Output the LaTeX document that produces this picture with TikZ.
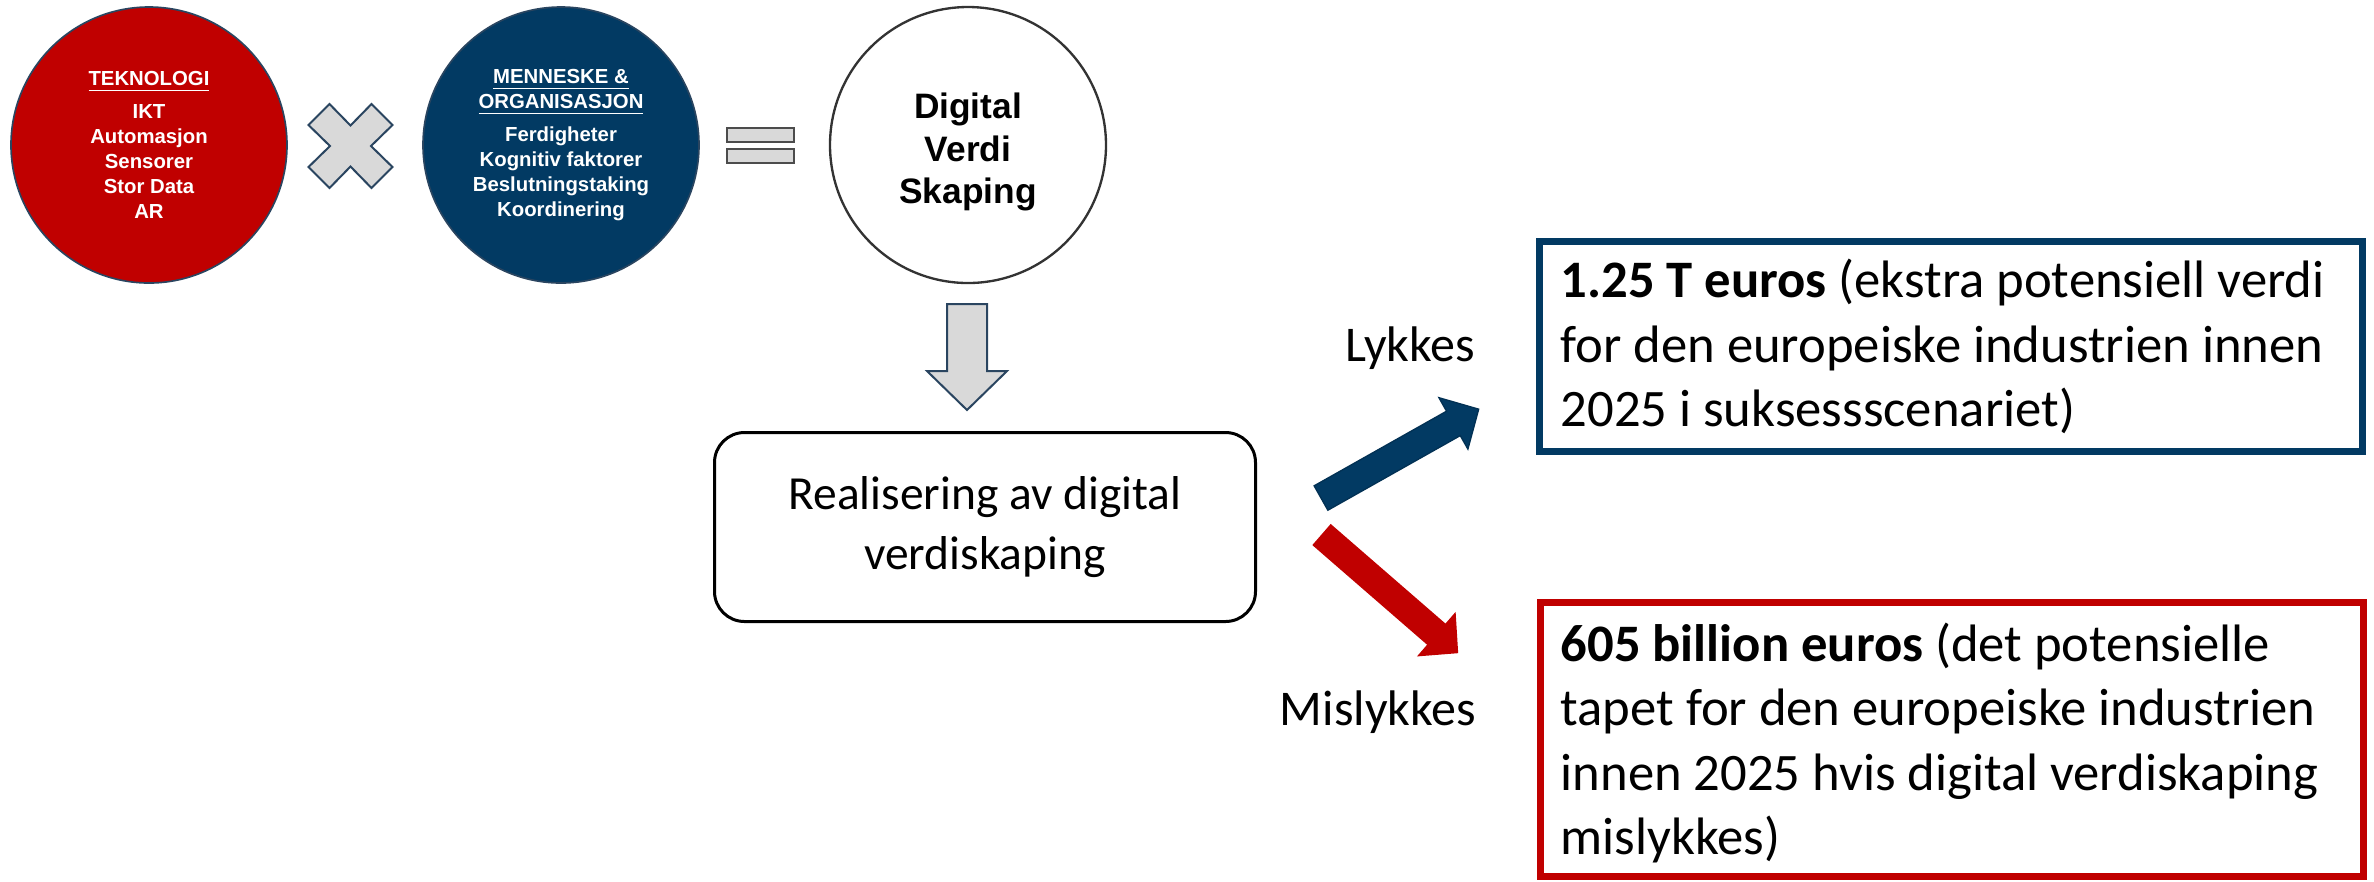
\documentclass[tikz,border=0pt]{standalone}
\usepackage{fontspec}
\setmainfont{Carlito}
\newfontfamily\circlefont{Liberation Sans}
\definecolor{deepred}{HTML}{C00000}
\definecolor{navy}{HTML}{023A63}
\definecolor{navyline}{HTML}{2A4560}
\definecolor{shapegray}{HTML}{D9D9D9}
\begin{document}
\begin{tikzpicture}[x=0.3pt, y=-0.3pt,
  disc/.style={circle, minimum size=82.8pt, inner sep=0pt, align=center},
  smalltxt/.style={font=\circlefont\bfseries\fontsize{6.1}{7.5}\selectfont, text=white},
  opshape/.style={fill=shapegray, draw=navyline, line width=0.6pt, line join=miter},
  eqbar/.style={rectangle, fill=shapegray, draw=black!70, line width=0.6pt,
    minimum width=20.1pt, minimum height=4.2pt, inner sep=0pt},
  outframe/.style={rectangle, line width=2.1pt, minimum width=246.9pt, inner sep=0pt},
  outtxt/.style={anchor=west, inner sep=0pt, align=left,
    font=\fontsize{15.8}{19.3}\selectfont},
  label/.style={font=\fontsize{15}{18}\selectfont}
]
\useasboundingbox (0,0) rectangle (2374,881);

% the three factors
\node[disc, smalltxt, fill=deepred, draw=navyline, line width=0.5pt] (tek) at (149,145)
  {\underline{TEKNOLOGI}\\[2.4pt] IKT\\ Automasjon\\ Sensorer\\ Stor Data\\ AR};
\node[disc, smalltxt, fill=navy, draw=navyline, line width=0.5pt] (menn) at (561,145)
  {\underline{MENNESKE \&}\\ \underline{ORGANISASJON}\\[2.4pt] Ferdigheter\\ Kognitiv faktorer\\ Beslutningstaking\\ Koordinering};
\node[disc, fill=white, draw=black!80, line width=0.7pt] (dvs) at (968,145) {};
\node[align=center, inner sep=0pt,
  font=\circlefont\bfseries\fontsize{10.6}{12.7}\selectfont] (dvstxt) at (968,152)
  {Digital\\ Verdi\\ Skaping};

% multiplication sign
\begin{scope}[shift={(350.5,146)}]
  \draw[opshape] (0,-20.5) -- (21,-42) -- (42,-21) -- (20.5,0) -- (42,21) -- (21,42)
    -- (0,20.5) -- (-21,42) -- (-42,21) -- (-20.5,0) -- (-42,-21) -- (-21,-42) -- cycle;
\end{scope}

% equals sign
\node[eqbar] (eqtop) at (760.5,135) {};
\node[eqbar] (eqbot) at (760.5,156) {};

% block arrow down to the realisation box
\draw[opshape] (947,304) -- (987,304) -- (987,371) -- (1007,371) -- (967,410)
  -- (927,371) -- (947,371) -- cycle;

\node[draw=black, line width=0.9pt, rounded corners=9pt, minimum width=162.3pt,
  minimum height=56.7pt, align=center, font=\fontsize{14.25}{18}\selectfont]
  (real) at (985,527) {Realisering av digital\\ verdiskaping};

% outcome arrows
\begin{scope}[shift={(1321,498)}, rotate=29.4]
  \fill[navy, draw=navy!85!black, line width=0.4pt] (0,-14) -- (152,-14) -- (152,-29.5)
    -- (181,0) -- (152,29.5) -- (152,14) -- (0,14) -- cycle;
\end{scope}
\begin{scope}[shift={(1321.5,534.5)}, rotate=-40.96]
  \fill[deepred] (0,-14) -- (152,-14) -- (152,-29.5)
    -- (181,0) -- (152,29.5) -- (152,14) -- (0,14) -- cycle;
\end{scope}

\node[label] (lyk) at (1410,348) {Lykkes};
\node[label] (mis) at (1378,712) {Mislykkes};

% outcome boxes
\node[outframe, draw=navy, minimum height=63pt] (gain) at (1951,346.5) {};
\node[outtxt] (gaintxt) at (1560,346.5)
  {\textbf{1.25 T euros} (ekstra potensiell verdi\\ for den europeiske industrien innen\\ 2025 i suksessscenariet)};
\node[outframe, draw=deepred, minimum height=82.2pt] (loss) at (1951.5,739.5) {};
\node[outtxt] (losstxt) at (1560,743)
  {\textbf{605 billion euros} (det potensielle\\ tapet for den europeiske industrien\\ innen 2025 hvis digital verdiskaping\\ mislykkes)};
\end{tikzpicture}
\end{document}
